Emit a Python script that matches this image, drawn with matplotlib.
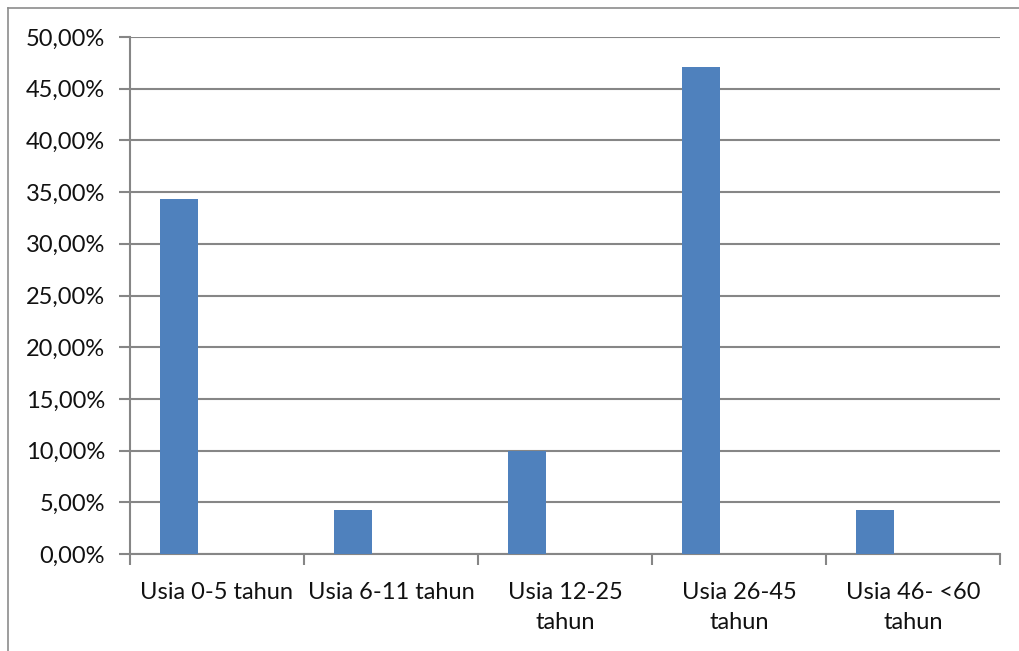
import matplotlib
matplotlib.use("Agg")
import matplotlib.pyplot as plt
from matplotlib.lines import Line2D
from matplotlib.ticker import FuncFormatter, MultipleLocator
import numpy as np

categories = ["Usia 0-5 tahun", "Usia 6-11 tahun", "Usia 12-25\ntahun",
              "Usia 26-45\ntahun", "Usia 46- <60\ntahun"]
values = [34.29, 4.29, 10.00, 47.14, 4.29]

plt.rcParams['font.family'] = ['Lato', 'DejaVu Sans']

fig = plt.figure(figsize=(10.2, 6.51), dpi=100)
ax = fig.add_axes([130/1020, 1-554/651, 870/1020, (554-37)/651])

grey = "#868686"
x = np.arange(len(categories))
ax.bar(x - 0.22, values, width=0.22, color="#4F81BD", zorder=3)

ax.set_xlim(-0.5, len(categories) - 0.5)
ax.set_ylim(0, 50)
ax.yaxis.set_major_locator(MultipleLocator(5))
ax.yaxis.set_major_formatter(FuncFormatter(lambda v, p: f"{v:.2f}".replace(".", ",") + "%"))
ax.grid(axis="y", color=grey, linewidth=1.5, zorder=0)

ax.set_xticks(x)
ax.set_xticklabels(categories, linespacing=1.55)
ax.set_xticks(np.arange(len(categories) + 1) - 0.5, minor=True)
ax.tick_params(axis="x", which="major", length=0, pad=20, labelsize=17, labelcolor="#111111")
ax.tick_params(axis="x", which="minor", length=8, width=1.5, color=grey, direction="out")
ax.tick_params(axis="y", length=8, width=1.5, color=grey, pad=10, labelsize=17, labelcolor="#111111")

for s in ["top", "right"]:
    ax.spines[s].set_visible(False)
for s in ["left", "bottom"]:
    ax.spines[s].set_color(grey)
    ax.spines[s].set_linewidth(1.5)

# outer chart frame (partially visible)
fig.add_artist(Line2D([8/1020, 1], [1-8/651, 1-8/651], color="#8c8c8c", linewidth=1.2, transform=fig.transFigure))
fig.add_artist(Line2D([8/1020, 8/1020], [0, 1-8/651], color="#8c8c8c", linewidth=1.2, transform=fig.transFigure))

fig.savefig("out.png", dpi=100)
